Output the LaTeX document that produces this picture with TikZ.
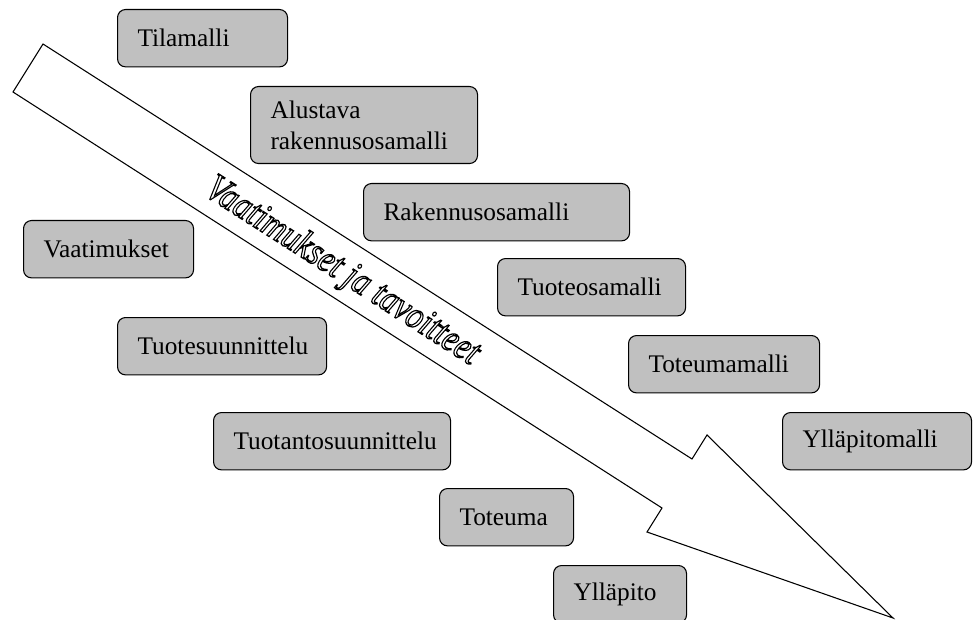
\documentclass[tikz,border=0pt]{standalone}
\usepackage{fontspec}
\setmainfont{Liberation Serif}
\definecolor{boxgray}{RGB}{192,192,192}
% hollow (stroked only) text
\newcommand{\hollowtext}[1]{\special{pdf:literal direct 1 Tr 0.8 w}#1\special{pdf:literal direct 0 Tr}}

\begin{document}
\begin{tikzpicture}[x=0.75pt,y=0.75pt,yscale=-1,xscale=1,
  mbox/.style={draw, fill=boxgray, line width=0.8pt, rounded corners=6pt, anchor=north west,
    inner xsep=15pt, inner ysep=0pt, minimum height=43pt, align=left,
    font=\fontsize{19}{22}\selectfont},
  bigarrow/.style={draw, fill=white, line width=0.8pt, line join=miter}]
\useasboundingbox (0,0) rectangle (977,620);

%Shape: Block Arrow
\draw [bigarrow] (43,44) -- (692,459) -- (707,435) -- (893,618) -- (647,532) -- (662,508) -- (13,92) -- cycle ;

% Text Node
\node [rotate=-32.6, inner sep=0pt, font=\fontsize{24}{28}\selectfont\itshape] (goals) at (342,272)
  {\scalebox{1.01}[1.22]{\hollowtext{Vaatimukset ja tavoitteet}}};

% Text Node
\node [mbox, text width=97.5pt] (tilamalli) at (117,9) {Tilamalli};
% Text Node
\node [mbox, text width=140.25pt, minimum height=57.75pt, font=\fontsize{19}{23.5}\selectfont] (alustava) at (250,86) {Alustava\\rakennusosamalli};
% Text Node
\node [mbox, text width=169.5pt] (rakosamalli) at (363,183) {Rakennusosamalli};
% Text Node
\node [mbox, text width=97.5pt] (vaatimukset) at (23,220) {Vaatimukset};
% Text Node
\node [mbox, text width=111pt] (tuoteosamalli) at (497,258) {Tuoteosamalli};
% Text Node
\node [mbox, text width=126.75pt] (tuotesuunn) at (117,317) {Tuotesuunnittelu};
% Text Node
\node [mbox, text width=113.25pt] (toteumamalli) at (628,335) {Toteumamalli};
% Text Node
\node [mbox, text width=111.75pt] (yllapitomalli) at (782,412) {Ylläpitomalli};
% Text Node
\node [mbox, text width=147.75pt] (tuotantosuunn) at (213,412) {Tuotantosuunnittelu};
% Text Node
\node [mbox, text width=70.5pt] (toteuma) at (439,488) {Toteuma};
% Text Node
\node [mbox, text width=69.75pt] (yllapito) at (553,565) {Ylläpito};

\end{tikzpicture}
\end{document}
